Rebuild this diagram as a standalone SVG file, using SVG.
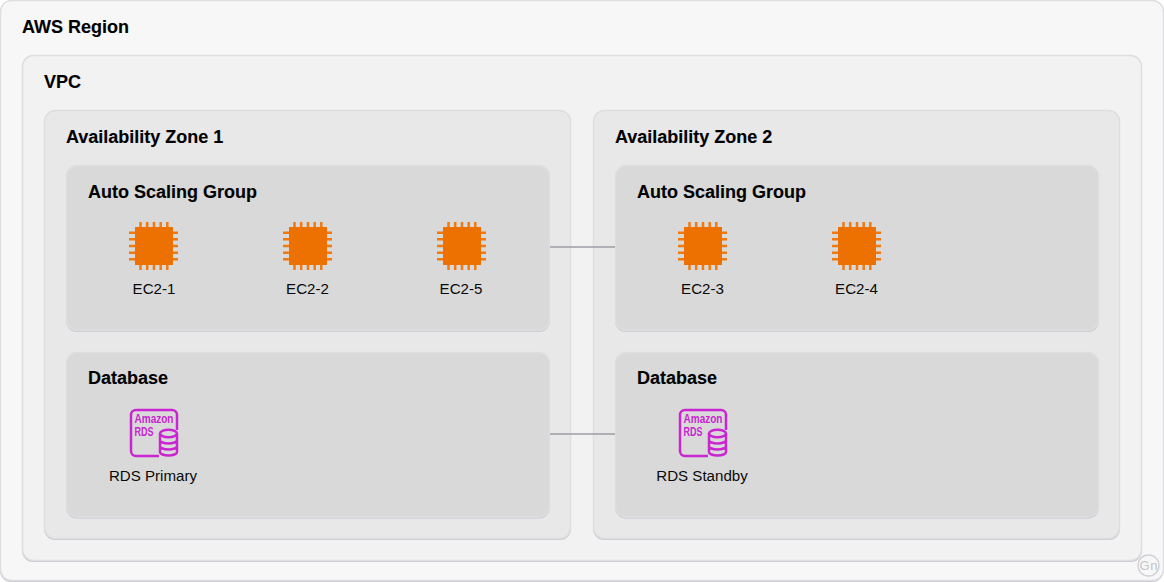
<svg xmlns="http://www.w3.org/2000/svg" xmlns:xlink="http://www.w3.org/1999/xlink" width="1164" height="582" viewBox="0 0 1164 582">
<style>
text{font-family:"Liberation Sans",Arial,sans-serif;fill:#000}
.h{font-size:18px;font-weight:700;stroke:#000;stroke-width:.12px}
.l{font-size:15.100px;text-anchor:middle;fill:#0a0a0a}
.box{stroke:#dedee2;stroke-width:1.500}
.sh{fill:#c8c8d0}
.r0{fill:#f7f7f7}.r1{fill:#f2f2f2}.r2{fill:#e8e8e8}.r3{fill:#d9d9d9}
.pin{stroke:#f07a10;stroke-width:2.500;fill:none}
.rds{stroke:#c925d1;stroke-width:2.500;fill:none}
.rt{font-family:"Liberation Sans",sans-serif;font-size:12px;font-weight:700;fill:#c925d1}
.conn{stroke:#9c9ca4;stroke-width:1.500;fill:none}
</style>
<defs>
<g id="ec2">
<path class="pin" d="M11.500 0V48M18.200 0V48M25 0V48M31.700 0V48M38.300 0V48M0 10.700H49M0 17.300H49M0 24H49M0 30.700H49M0 37.300H49"/>
<rect x="6" y="5" width="38" height="38" fill="#ed7100"/>
</g>
<g id="rdsi">
<path class="rds" d="M29 47H6a5 5 0 0 1-5-5V6a5 5 0 0 1 5-5H42a5 5 0 0 1 5 5V21"/>
<text class="rt" x="4.500" y="13.500" textLength="39" lengthAdjust="spacingAndGlyphs">Amazon</text>
<text class="rt" x="4.500" y="27" textLength="19" lengthAdjust="spacingAndGlyphs">RDS</text>
<ellipse class="rds" cx="38.500" cy="24.500" rx="8.500" ry="3.800"/>
<path class="rds" d="M30 24.500V43c0 2 4 3.500 8.500 3.500S47 45 47 43V24.500M30 31c0 2 4 3.500 8.500 3.500S47 33 47 31M30 37c0 2 4 3.500 8.500 3.500S47 39 47 37"/>
</g>
</defs>
<g id="containers">
<g id="region"><rect class="sh" x="0" y="1.500" width="1163.500" height="580.500" rx="11"/><rect class="box r0" x=".5" y=".5" width="1163" height="580" rx="11"/><text class="h" x="22" y="33">AWS Region</text></g>
<g id="vpc"><rect class="sh" x="22" y="56.500" width="1120" height="505.500" rx="11"/><rect class="box r1" x="22.500" y="55.500" width="1119" height="505" rx="11"/><text class="h" x="44" y="88">VPC</text></g>
<g id="az1"><rect class="sh" x="44" y="111.500" width="527" height="428.500" rx="11"/><rect class="box r2" x="44.500" y="110.500" width="526" height="428" rx="11"/><text class="h" x="66" y="143">Availability Zone 1</text></g>
<g id="az2"><rect class="sh" x="593" y="111.500" width="527" height="428.500" rx="11"/><rect class="box r2" x="593.500" y="110.500" width="526" height="428" rx="11"/><text class="h" x="615" y="143">Availability Zone 2</text></g>
<g id="asg1"><rect class="sh" x="66" y="166.500" width="484" height="165.500" rx="11"/><rect class="box r3" x="66.500" y="165.500" width="483" height="165" rx="11"/><text class="h" x="88" y="198">Auto Scaling Group</text></g>
<g id="db1"><rect class="sh" x="66" y="353.500" width="484" height="165" rx="11"/><rect class="box r3" x="66.500" y="352.500" width="483" height="164.500" rx="11"/><text class="h" x="88" y="384">Database</text></g>
<g id="asg2"><rect class="sh" x="615" y="166.500" width="484" height="165.500" rx="11"/><rect class="box r3" x="615.500" y="165.500" width="483" height="165" rx="11"/><text class="h" x="637" y="198">Auto Scaling Group</text></g>
<g id="db2"><rect class="sh" x="615" y="353.500" width="484" height="165" rx="11"/><rect class="box r3" x="615.500" y="352.500" width="483" height="164.500" rx="11"/><text class="h" x="637" y="384">Database</text></g>
</g>
<g id="connectors">
<path class="conn" d="M550 247H615"/>
<path class="conn" d="M550 434H615"/>
</g>
<g id="ec2-1"><use xlink:href="#ec2" href="#ec2" x="129" y="222"/><text class="l" x="154" y="294">EC2-1</text></g>
<g id="ec2-2"><use xlink:href="#ec2" href="#ec2" x="283" y="222"/><text class="l" x="307.500" y="294">EC2-2</text></g>
<g id="ec2-5"><use xlink:href="#ec2" href="#ec2" x="437" y="222"/><text class="l" x="461" y="294">EC2-5</text></g>
<g id="ec2-3"><use xlink:href="#ec2" href="#ec2" x="678" y="222"/><text class="l" x="702.500" y="294">EC2-3</text></g>
<g id="ec2-4"><use xlink:href="#ec2" href="#ec2" x="832" y="222"/><text class="l" x="856.500" y="294">EC2-4</text></g>
<g id="rds-primary"><use xlink:href="#rdsi" href="#rdsi" x="130" y="409"/><text class="l" x="153" y="481">RDS Primary</text></g>
<g id="rds-standby"><use xlink:href="#rdsi" href="#rdsi" x="679" y="409"/><text class="l" x="702" y="481">RDS Standby</text></g>
<g id="watermark"><circle cx="1148.500" cy="565.500" r="10.500" fill="none" stroke="#d0d0d6" stroke-width="1.300"/><text x="1148.800" y="570" font-size="13" letter-spacing=".6" text-anchor="middle" style="fill:#c4c4ca">Gn</text></g>
</svg>
